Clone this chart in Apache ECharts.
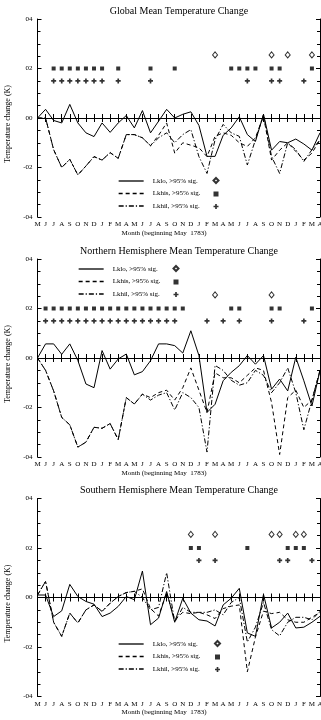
<!DOCTYPE html>
<html>
<head>
<meta charset="utf-8">
<script src="https://cdn.jsdelivr.net/npm/echarts@6/dist/echarts.min.js"></script>
<style>
  html, body { margin: 0; padding: 0; background: #fff; }
  #chart { width: 321px; height: 720px; }
</style>
</head>
<body>
<div id="chart"></div>
<script>
// * three panels, months from May 1783

const months = ['M','J','J','A','S','O','N','D','J','F','M','A','M','J','J','A','S','O','N','D','J','F','M','A','M','J','J','A','S','O','N','D','J','F','M','A']
const yTickValues = [-0.4, -0.2, 0, 0.2, 0.4]
const yTickLabels = ['-04', '-02', '00', '02', '04']
const legendNames = ['Lklo', 'Lkhis', 'Lkhil']
const sigNames = ['Lklo sig', 'Lkhis sig', 'Lkhil sig']
const sigLevels = [0.255, 0.2, 0.15]

// ? global
const gloLo = [0, 0.035, -0.01, -0.02, 0.055, -0.02, -0.06, -0.075, -0.02, -0.058, -0.02, 0.01, -0.04, 0.03, -0.06, -0.013, 0.035, 0.0, 0.015, 0.025, -0.03, -0.155, -0.155, -0.07, -0.04, 0.005, -0.067, -0.095, 0.015, -0.13, -0.095, -0.1, -0.085, -0.105, -0.13, -0.06]
const gloHis = [0, 0, -0.128, -0.2, -0.167, -0.23, -0.194, -0.156, -0.17, -0.14, -0.163, -0.067, -0.067, -0.08, -0.112, -0.07, -0.02, -0.142, -0.1, -0.11, -0.12, -0.156, -0.074, -0.06, -0.07, -0.1, -0.115, -0.08, 0.007, -0.17, -0.13, -0.1, -0.135, -0.17, -0.142, -0.088]
const gloHil = [0, 0, -0.128, -0.2, -0.167, -0.23, -0.194, -0.156, -0.17, -0.14, -0.163, -0.067, -0.067, -0.08, -0.112, -0.08, -0.06, -0.1, -0.067, -0.047, -0.156, -0.224, -0.088, -0.026, -0.06, -0.074, -0.19, -0.088, 0.014, -0.156, -0.224, -0.1, -0.128, -0.176, -0.128, -0.088]
const gloLoSig = [22, 29, 31, 34]
const gloHisSig = [2, 3, 4, 5, 6, 7, 8, 10, 14, 17, 24, 25, 26, 27, 29, 30, 34]
const gloHilSig = [2, 3, 4, 5, 6, 7, 8, 10, 14, 26, 29, 30, 33]

// ? northern hemisphere
const nhLo = [0, 0.057, 0.057, 0.015, 0.057, -0.01, -0.105, -0.12, 0.03, -0.045, -0.004, 0.016, -0.068, -0.055, -0.011, 0.057, 0.057, 0.05, 0.02, 0.11, 0.01, -0.22, -0.187, -0.092, -0.058, -0.031, 0.01, -0.025, 0.01, -0.126, -0.085, -0.133, 0.003, -0.092, -0.194, -0.05]
const nhHis = [0, -0.05, -0.133, -0.24, -0.27, -0.36, -0.34, -0.28, -0.284, -0.265, -0.33, -0.16, -0.186, -0.146, -0.16, -0.14, -0.13, -0.17, -0.12, -0.04, -0.13, -0.22, -0.06, -0.08, -0.08, -0.1, -0.07, -0.04, -0.05, -0.18, -0.39, -0.16, -0.13, -0.2, -0.17, -0.05]
const nhHil = [0, -0.05, -0.133, -0.24, -0.27, -0.36, -0.34, -0.28, -0.284, -0.265, -0.33, -0.16, -0.186, -0.146, -0.17, -0.15, -0.14, -0.21, -0.14, -0.16, -0.2, -0.38, -0.03, -0.05, -0.09, -0.11, -0.1, -0.05, -0.07, -0.14, -0.1, -0.04, -0.14, -0.29, -0.17, -0.05]
const nhLoSig = [22, 29]
const nhHisSig = [1, 2, 3, 4, 5, 6, 7, 8, 9, 10, 11, 12, 13, 14, 15, 16, 17, 18, 24, 25, 29, 30, 34]
const nhHilSig = [1, 2, 3, 4, 5, 6, 7, 8, 9, 10, 11, 12, 13, 14, 15, 16, 17, 21, 23, 25, 29, 33]

// ? southern hemisphere
const shLo = [0.01, 0.01, -0.077, -0.054, 0.053, 0.004, -0.016, -0.027, -0.077, -0.063, -0.036, 0.004, -0.009, 0.107, -0.11, -0.083, 0.024, -0.1, -0.003, -0.063, -0.09, -0.095, -0.115, -0.03, -0.003, 0.037, -0.143, -0.157, 0.013, -0.123, -0.1, -0.063, -0.123, -0.12, -0.1, -0.076]
const shHis = [0.01, 0.065, -0.1, -0.157, -0.063, -0.103, -0.05, -0.03, -0.056, -0.023, 0.004, 0.02, 0.025, 0.035, -0.045, -0.075, 0.02, -0.09, -0.06, -0.065, -0.06, -0.07, -0.085, -0.045, -0.035, -0.03, -0.3, -0.16, -0.055, -0.065, -0.06, -0.09, -0.1, -0.1, -0.08, -0.06]
const shHil = [0.01, 0.065, -0.1, -0.157, -0.063, -0.103, -0.05, -0.03, -0.056, -0.023, 0.004, 0.02, 0.025, 0.0, -0.05, -0.04, 0.1, -0.1, -0.04, -0.06, -0.06, -0.06, -0.05, -0.07, -0.02, 0.0, -0.18, -0.12, -0.02, -0.13, -0.155, -0.1, -0.08, -0.08, -0.09, -0.055]
const shLoSig = [19, 22, 29, 30, 32, 33]
const shHisSig = [19, 20, 26, 31, 32, 33]
const shHilSig = [20, 22, 30, 31, 34]

const panels = [
  { title: 'Global Mean Temperature Change', top: 19, lines: [gloLo, gloHis, gloHil], sig: [gloLoSig, gloHisSig, gloHilSig], legLeft: 118, legTop: 177, markLeft: 212.5 },
  { title: 'Northern Hemisphere Mean Temperature Change', top: 259, lines: [nhLo, nhHis, nhHil], sig: [nhLoSig, nhHisSig, nhHilSig], legLeft: 78, legTop: 265, markLeft: 172.5 },
  { title: 'Southern Hemisphere Mean Temperature Change', top: 498.5, lines: [shLo, shHis, shHil], sig: [shLoSig, shHisSig, shHilSig], legLeft: 118, legTop: 640, markLeft: 214 }
]

const plotLeft = 37.5
const plotH = 198
const serif = '"Liberation Serif", "Times New Roman", serif'
const black = '#000'
const lineTypes = ['solid', [4, 3], [5, 2, 1.2, 2]]
const plus = 'path://M2,0H4V2H6V4H4V6H2V4H0V2H2Z'
const sigSymbols = [
  { symbol: 'diamond', symbolSize: [5, 6], itemStyle: { color: '#fff', borderColor: black, borderWidth: 1 } },
  { symbol: 'rect', symbolSize: 4, itemStyle: { color: black } },
  { symbol: plus, symbolSize: 5, itemStyle: { color: black } }
]

const chart = echarts.init(document.getElementById('chart'), null, { renderer: 'canvas' })

const grid = [], xAxis = [], yAxis = [], series = [], legend = [], graphic = []

panels.forEach((p, k) => {
  grid.push({ left: plotLeft, right: 1, top: p.top, height: plotH, outerBoundsMode: 'none', containLabel: false })

  const tickStyle = { lineStyle: { color: black, width: 1 } }
  // bottom + top x axes
  xAxis.push({
    type: 'category', gridIndex: k, data: months, boundaryGap: false, position: 'bottom',
    axisLine: { lineStyle: { color: black, width: 1 } },
    axisTick: { show: true, inside: true, length: 4, interval: 0, alignWithLabel: true, ...tickStyle },
    axisLabel: { interval: 0, margin: 4, color: black, fontSize: 7, fontFamily: serif },
    splitLine: { show: false }
  })
  xAxis.push({
    type: 'category', gridIndex: k, data: months, boundaryGap: false, position: 'top',
    axisLine: { lineStyle: { color: black, width: 1 } },
    axisTick: { show: true, inside: true, length: 4, interval: 0, ...tickStyle },
    axisLabel: { show: false },
    splitLine: { show: false }
  })
  // left + right y axes (tick labels are placed below from the axis scale)
  const yBase = {
    type: 'value', gridIndex: k, min: -0.4, max: 0.4, interval: 0.2,
    axisLine: { show: true, onZero: false, lineStyle: { color: black, width: 1 } },
    axisTick: { show: true, inside: true, length: 4, ...tickStyle },
    minorTick: { show: true, splitNumber: 4, length: 3, lineStyle: { color: black, width: 1 } },
    axisLabel: { show: false },
    splitLine: { show: false },
    minorSplitLine: { show: false }
  }
  yAxis.push({ ...yBase, position: 'left' })
  yAxis.push({ ...yBase, position: 'right' })

  p.lines.forEach((data, j) => {
    const s = {
      name: legendNames[j], type: 'line', xAxisIndex: 2 * k, yAxisIndex: 2 * k,
      data, symbol: 'none', silent: true, z: 3,
      lineStyle: { color: black, width: 1, type: lineTypes[j] },
      itemStyle: { color: black }
    }
    if (j === 0) {
      s.markLine = {
        silent: true, symbol: ['none', 'none'], label: { show: false },
        lineStyle: { type: 'dotted', color: black, width: 1 },
        data: [{ yAxis: 0 }]
      }
    }
    series.push(s)
  })

  p.sig.forEach((idx, j) => {
    series.push({
      name: sigNames[j], type: 'scatter', xAxisIndex: 2 * k, yAxisIndex: 2 * k,
      data: idx.map(i => [i, sigLevels[j]]), symbolKeepAspect: true, silent: true, z: 4,
      ...sigSymbols[j]
    })
  })

  const legBase = {
    orient: 'vertical', top: p.legTop, itemGap: 4.5, itemHeight: 8, padding: 0,
    selectedMode: false, inactiveColor: black,
    textStyle: { color: black, fontSize: 7, lineHeight: 8, fontFamily: serif }
  }
  legend.push({
    ...legBase, left: p.legLeft, data: legendNames, itemWidth: 25,
    itemStyle: { opacity: 0 },
    lineStyle: { width: 1.3, opacity: 1 },
    formatter: n => n + ', >95% sig.',
    textStyle: { ...legBase.textStyle, padding: [0, 0, 0, 4] }
  })
  legend.push({
    ...legBase, left: p.markLeft, data: sigNames, itemWidth: 5, itemHeight: 5, itemGap: 7.5,
    formatter: () => ''
  })

  // titles and axis names
  const top = p.top
  graphic.push({ type: 'text', x: 179, y: top - 8, style: { text: p.title, font: '10px ' + serif, fill: black, align: 'center', verticalAlign: 'middle' } })
  graphic.push({ type: 'text', x: 164, y: top + plotH + 16, style: { text: 'Month (beginning May  1783)', font: '7px ' + serif, fill: black, align: 'center', verticalAlign: 'middle' } })
  graphic.push({ type: 'text', x: 7.5, y: top + plotH / 2 + 6, rotation: Math.PI / 2, style: { text: 'Temperature change (K)', font: '8px ' + serif, fill: black, align: 'center', verticalAlign: 'middle' } })
})

chart.setOption({
  backgroundColor: '#fff',
  animation: false,
  grid, xAxis, yAxis, series, legend, graphic
})

// ? y tick labels, left of the axis, positioned with the axis scale
panels.forEach((p, k) => {
  yTickValues.forEach((v, t) => {
    const py = chart.convertToPixel({ yAxisIndex: 2 * k }, v)
    graphic.push({
      type: 'text', x: plotLeft - 5, y: py,
      style: { text: yTickLabels[t], font: '7px ' + serif, fill: black, align: 'right', verticalAlign: 'middle' }
    })
  })
})
chart.setOption({ graphic })
</script>
</body>
</html>
